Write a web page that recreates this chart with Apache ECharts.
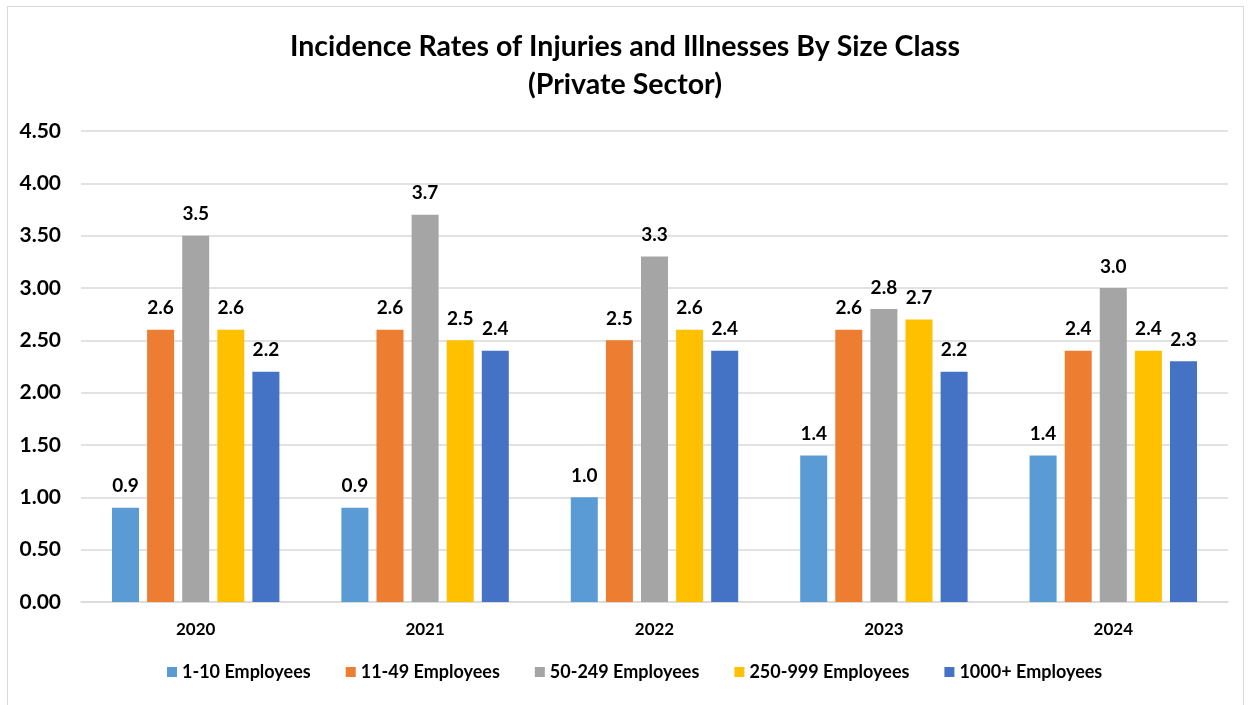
<!DOCTYPE html>
<html>
<head>
<meta charset="utf-8">
<script src="https://cdn.jsdelivr.net/npm/echarts@6/dist/echarts.min.js"></script>
<style>
  html, body { margin: 0; padding: 0; background: #fff; }
  #chart { width: 1250px; height: 705px; }
  #frame { position: absolute; left: 7px; top: 6px; width: 1237px; height: 720px; border: 1.5px solid #d9d9d9; box-sizing: border-box; pointer-events: none; }
</style>
</head>
<body>
<div id="chart"></div>
<div id="frame"></div>
<script>
// years on the x axis
const years = ['2020', '2021', '2022', '2023', '2024']
// size classes (legend)
const sizeClasses = ['1-10 Employees', '11-49 Employees', '50-249 Employees', '250-999 Employees', '1000+ Employees']
// incidence rates per size class, one value per year
const rates1to10 = [0.9, 0.9, 1.0, 1.4, 1.4]
const rates11to49 = [2.6, 2.6, 2.5, 2.6, 2.4]
const rates50to249 = [3.5, 3.7, 3.3, 2.8, 3.0]
const rates250to999 = [2.6, 2.5, 2.6, 2.7, 2.4]
const rates1000plus = [2.2, 2.4, 2.4, 2.2, 2.3]

const colors = ['#5B9BD5', '#ED7D31', '#A5A5A5', '#FFC000', '#4472C4']
const allRates = [rates1to10, rates11to49, rates50to249, rates250to999, rates1000plus]
const font = 'Lato, "Open Sans", sans-serif'

const chart = echarts.init(document.getElementById('chart'))
chart.setOption({
  color: colors,
  animation: false,
  title: {
    text: 'Incidence Rates of Injuries and Illnesses By Size Class\n(Private Sector)',
    left: 'center',
    top: 23,
    textStyle: { fontFamily: font, fontSize: 28.5, fontWeight: 'bold', color: '#000', lineHeight: 38 },
  },
  legend: {
    data: sizeClasses,
    bottom: 19,
    left: 162,
    itemWidth: 10,
    itemHeight: 10,
    itemGap: 35,
    icon: 'rect',
    textStyle: { fontFamily: font, fontSize: 18, fontWeight: 'bold', color: '#000' },
  },
  grid: { left: 81, right: 22, top: 131, bottom: 103 },
  xAxis: {
    type: 'category',
    data: years,
    axisLine: { lineStyle: { color: '#d9d9d9', width: 1.5 } },
    axisTick: { show: false },
    axisLabel: { fontFamily: font, fontSize: 17, fontWeight: 'bold', color: '#000', margin: 19 },
  },
  yAxis: {
    type: 'value',
    min: 0,
    max: 4.5,
    interval: 0.5,
    axisLine: { show: false },
    axisTick: { show: false },
    splitLine: { lineStyle: { color: '#d9d9d9', width: 1.5 } },
    axisLabel: {
      fontFamily: font, fontSize: 21, fontWeight: 'bold', color: '#000', margin: 20,
      formatter: v => v.toFixed(2),
    },
  },
  series: allRates.map((vals, i) => ({
    name: sizeClasses[i],
    type: 'bar',
    data: vals,
    barWidth: 27,
    barGap: '30%',
    label: {
      show: true,
      position: 'top',
      distance: 12,
      fontFamily: font,
      fontSize: 19,
      fontWeight: 'bold',
      color: '#000',
      formatter: p => p.value.toFixed(1),
    },
  })),
})
</script>
</body>
</html>
